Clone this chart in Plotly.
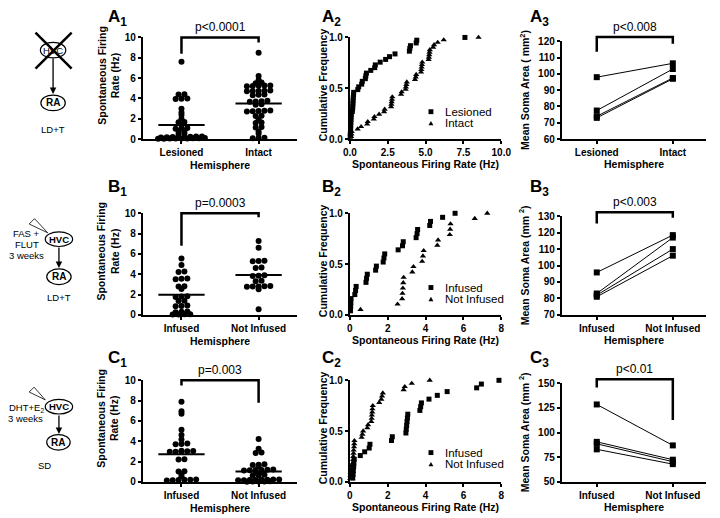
import numpy as np
import plotly.graph_objects as go

W, H = 720, 518
OFF = 8  # the page body margin pushes the figure 8px right/down; compensate
FONT = "Liberation Sans, Arial, sans-serif"

# ---------------- data ----------------
groups_A = ["Lesioned", "Intact"]
groups_BC = ["Infused", "Not Infused"]

# spontaneous firing rate (Hz), one value per neuron
rate_A_lesioned = [0.02, 0.03, 0.04, 0.05, 0.05, 0.06, 0.07, 0.08, 0.09,
                   0.16, 0.18, 0.19, 0.2, 0.21, 0.22, 0.24, 0.25,
                   0.52, 0.58, 0.78, 0.82, 1.02, 1.05, 1.09, 1.38, 1.64, 1.68,
                   2.0, 2.36, 2.62, 2.98, 3.93, 3.96, 4.0, 4.38, 4.42, 7.6]
rate_A_intact = [0.08, 0.1, 0.12, 0.51, 0.74, 1.14, 1.18, 1.58, 1.62, 1.93,
                 2.26, 2.3, 2.72, 2.74, 2.76, 2.78, 2.8, 3.38, 3.42,
                 3.68, 3.7, 3.73, 3.76, 4.3, 4.35, 4.38, 4.7, 4.72, 4.74, 4.76, 4.78,
                 5.2, 5.22, 5.24, 5.26, 5.28, 5.5, 5.56, 5.8, 6.2, 8.5]
rate_B_infused = [0.03, 0.04, 0.05, 0.06, 0.26, 0.3, 0.33, 0.85, 0.88, 0.92,
                  1.36, 1.4, 1.76, 1.8, 1.84, 2.55, 2.78, 2.82, 3.5, 3.55, 3.58,
                  4.22, 4.26, 4.9, 5.56]
rate_B_not = [0.56, 2.52, 2.76, 2.78, 2.8, 2.82, 2.84, 3.3, 3.36,
              3.82, 3.86, 3.9, 4.62, 4.66, 5.28, 5.3, 5.32, 6.6, 7.26]
rate_C_infused = [0.15, 0.17, 0.18, 0.2, 0.21, 0.23, 0.55, 0.78, 1.02, 1.06,
                  2.2, 2.24, 2.96, 2.98, 3.0, 3.02, 3.04, 3.06, 3.7, 3.74, 3.78,
                  4.18, 4.62, 5.14, 6.7, 6.95, 7.88]
rate_C_not = [0.02, 0.03, 0.04, 0.05, 0.06, 0.16, 0.17, 0.18, 0.19, 0.2, 0.22, 0.23, 0.24,
              0.62, 0.66, 0.7, 0.92, 0.96, 1.13, 1.15, 1.16, 1.18, 1.19, 1.21,
              1.55, 1.66, 1.7, 1.74, 2.84, 2.9, 3.27, 4.22]

# mean soma area, one value per bird, paired by index
soma_A_lesioned = [98, 77.5, 74, 73]
soma_A_intact = [106.5, 103, 97.5, 97]
soma_B_infused = [95.8, 83, 82, 81]
soma_B_not = [118.5, 117, 110, 106]
soma_C_infused = [128.5, 90.6, 88.6, 83]
soma_C_not = [87, 72.5, 70.5, 68]

p_rate = ["p<0.0001", "p=0.0003", "p=0.003"]
p_soma = ["p<0.008", "p<0.003", "p<0.01"]
# brackets: (top, left leg end, right leg end) in data units
bracket_rate = [(10, 8.4, 9.5), (10, 6.8, 9.6), (10, 9.5, 7.8)]
bracket_soma = [(122.6, 113.6, 118.6), (132.4, 125.6, 129.0), (154, 145.7, 112.7)]

soma_ranges = [(60, 120, 10), (70, 130, 10), (50, 150, 25)]
cdf_ranges = [(10, 2.5), (8, 2), (8, 2)]

rows = [
    dict(groups=groups_A, rate=(rate_A_lesioned, rate_A_intact), soma=(soma_A_lesioned, soma_A_intact)),
    dict(groups=groups_BC, rate=(rate_B_infused, rate_B_not), soma=(soma_B_infused, soma_B_not)),
    dict(groups=groups_BC, rate=(rate_C_infused, rate_C_not), soma=(soma_C_infused, soma_C_not)),
]

# ---------------- layout geometry (window pixels) ----------------
col_x = [(139, 297), (351, 506), (568, 716)]
row_y = [(32, 136), (212, 316), (383, 487)]
col3_top = [36, 215, 386]


def px(x):
    return (x - OFF) / W


def py(y):
    return 1 - (y - OFF) / H


def swarm(vals, center, y_ppu, x_ppu, tol_px=1.0, step_px=6.0):
    """GraphPad-like column scatter: close values share a row, spread sideways."""
    v = sorted(vals)
    groups = []
    for val in v:
        if groups and (val - groups[-1][0]) * y_ppu <= tol_px:
            groups[-1].append(val)
        else:
            groups.append([val])
    xs, ys = [], []
    for g in groups:
        n = len(g)
        for i, val in enumerate(g):
            xs.append(center + (i - (n - 1) / 2) * step_px / x_ppu)
            ys.append(val)
    return xs, ys


AX = dict(showline=True, linecolor="black", linewidth=2, ticks="outside", ticklen=3,
          tickwidth=2, tickcolor="black", showgrid=False, zeroline=False, mirror=False,
          tickfont=dict(family=FONT, size=10, color="black", weight="bold"))

fig = go.Figure()
layout = {}
shapes = []
annotations = []


def txt(x, y, text, size=12, bold=False, **kw):
    d = dict(x=x, y=y, text=text, showarrow=False, xanchor="center", yanchor="middle",
             xref="paper", yref="paper",
             font=dict(family=FONT, size=size, color="black", weight="bold" if bold else "normal"))
    d.update(kw)
    annotations.append(d)


def bracket(xn, yn, xr, yr, top, lo_l, lo_r, label):
    # drawn in axis-domain units so that the part above the axis range is not clipped
    fx = lambda v: (v - xr[0]) / (xr[1] - xr[0])
    fy = lambda v: (v - yr[0]) / (yr[1] - yr[0])
    shapes.append(dict(type="path", xref=f"{xn} domain", yref=f"{yn} domain",
                       path=f"M {fx(0)},{fy(lo_l)} L {fx(0)},{fy(top)} L {fx(1)},{fy(top)} L {fx(1)},{fy(lo_r)}",
                       line=dict(color="black", width=2.5)))
    txt(fx(0.5), fy(top), label, size=12, xref=f"{xn} domain", yref=f"{yn} domain",
        yanchor="bottom", yshift=1)


for r, row in enumerate(rows):
    for c in range(3):
        k = r * 3 + c + 1
        xn = "x" if k == 1 else f"x{k}"
        yn = "y" if k == 1 else f"y{k}"
        x0, x1 = col_x[c]
        top = col3_top[r] if c == 2 else row_y[r][0]
        bot = row_y[r][1]
        xa = dict(AX, domain=[px(x0), px(x1)], anchor=yn)
        ya = dict(AX, domain=[py(bot), py(top)], anchor=xn)

        if c == 0:
            xr, yr = [-0.5, 1.5], [0, 10]
            xa.update(range=xr, tickvals=[0, 1], ticktext=row["groups"])
            ya.update(range=yr, dtick=2)
            y_ppu = (bot - top) / 10
            x_ppu = (x1 - x0) / 2
            for g, vals in enumerate(row["rate"]):
                xs, ys = swarm(vals, g, y_ppu, x_ppu)
                fig.add_trace(go.Scatter(x=xs, y=ys, mode="markers", xaxis=xn, yaxis=yn,
                                         marker=dict(color="black", size=6), cliponaxis=False,
                                         showlegend=False))
                m = float(np.mean(vals))
                fig.add_trace(go.Scatter(x=[g - 0.3, g + 0.3], y=[m, m], mode="lines",
                                         xaxis=xn, yaxis=yn, line=dict(color="black", width=2),
                                         showlegend=False))
            btop, bl, br = bracket_rate[r]
            bracket(xn, yn, xr, yr, btop, bl, br, p_rate[r])
            txt(px((x0 + x1) / 2), py(bot + 26.5), "Hemisphere", size=10.5, bold=True)
            txt(px(103.5), py((top + bot) / 2 - 13), "Spontaneous Firing<br>Rate (Hz)",
                size=10.5, bold=True, textangle=-90)
        elif c == 1:
            xmax, dt = cdf_ranges[r]
            xa.update(range=[0, xmax], dtick=dt, tickformat=".1f" if r == 0 else "d")
            ya.update(range=[0, 1], tickvals=[0, 0.5, 1], tickformat=".1f")
            symbols = ["square", "triangle-up"]
            sizes = [5, 5.5]
            for g, vals in enumerate(row["rate"]):
                s = np.sort(vals)
                cum = np.arange(1, len(s) + 1) / len(s)
                fig.add_trace(go.Scatter(x=s, y=cum, mode="markers", xaxis=xn, yaxis=yn,
                                         marker=dict(color="black", size=sizes[g], symbol=symbols[g]),
                                         cliponaxis=False, showlegend=False,
                                         name=row["groups"][g]))
            # legend keys
            lx = 434
            ly = [108, 288, 457][r]
            for g in range(2):
                yy = ly + 12 * g
                if g == 0:
                    shapes.append(dict(type="rect", xref="paper", yref="paper",
                                       x0=px(lx - 2.5), x1=px(lx + 2.5), y0=py(yy + 2.5), y1=py(yy - 2.5),
                                       fillcolor="black", line=dict(width=0)))
                else:
                    shapes.append(dict(type="path", xref="paper", yref="paper",
                                       path=f"M {px(lx - 2.5)},{py(yy + 2)} L {px(lx + 2.5)},{py(yy + 2)} "
                                            f"L {px(lx)},{py(yy - 2.5)} Z",
                                       fillcolor="black", line=dict(width=0)))
                txt(px(446), py(yy), row["groups"][g], size=11.5, xanchor="left")
            txt(px((x0 + x1) / 2), py(bot + 26), "Spontaneous Firing Rate (Hz)", size=10.5,
                bold=True)
            txt(px(323.5), py((top + bot) / 2 - 3), "Cumulative Frequency", size=10.5, bold=True,
                textangle=-90)
        else:
            lo, hi, dt = soma_ranges[r]
            xr, yr = [-0.46, 1.44], [lo, hi]
            xa.update(range=xr, tickvals=[0, 1], ticktext=row["groups"])
            ya.update(range=yr, dtick=dt)
            a, b = row["soma"]
            for i in range(len(a)):
                fig.add_trace(go.Scatter(x=[0, 1], y=[a[i], b[i]], mode="lines+markers",
                                         xaxis=xn, yaxis=yn, cliponaxis=False,
                                         line=dict(color="black", width=1),
                                         marker=dict(color="black", size=6, symbol="square"),
                                         showlegend=False))
            btop, bl, br = bracket_soma[r]
            bracket(xn, yn, xr, yr, btop, bl, br, p_soma[r])
            txt(px((x0 + x1) / 2), py(bot + 25.5), "Hemisphere", size=10.5, bold=True)
            ytitle = "Mean Soma Area ( mm<sup>2</sup>)" if r == 0 else "Mean Soma Area (mm <sup>2</sup>)"
            txt(px(529), py((top + bot) / 2), ytitle, size=10.5, bold=True, textangle=-90)

        layout["xaxis" if k == 1 else f"xaxis{k}"] = xa
        layout["yaxis" if k == 1 else f"yaxis{k}"] = ya

# panel letters
for r, letter in enumerate("ABC"):
    cy = [12, 186, 361][r]
    for c, lx in enumerate([101, 320, 533]):
        txt(px(lx), py(cy), f"{letter}<sub>{c + 1}</sub>", size=17, bold=True, xanchor="left")


# ---------------- schematics ----------------
def ellipse(cx, cy, rx, ry):
    shapes.append(dict(type="circle", xref="paper", yref="paper",
                       x0=px(cx - rx), x1=px(cx + rx), y0=py(cy + ry), y1=py(cy - ry),
                       line=dict(color="black", width=1.2), fillcolor="white", layer="below"))


def arrow(x, y_from, y_to):
    annotations.append(dict(x=px(x), y=py(y_to), ax=0, ay=-(y_to - y_from), xref="paper", yref="paper",
                            axref="pixel", ayref="pixel", text="", showarrow=True,
                            arrowhead=2, arrowsize=1, arrowwidth=1.3, arrowcolor="black"))


def pipette(x1, y1, x2, y2, xt, yt):
    shapes.append(dict(type="path", xref="paper", yref="paper",
                       path=f"M {px(x1)},{py(y1)} L {px(xt)},{py(yt)} L {px(x2)},{py(y2)} Z",
                       line=dict(color="black", width=0.8)))


# A: lesioned HVC
ellipse(47, 45, 13, 8)
txt(px(47), py(45), "HVC", size=9.5)
for (xa_, ya_, xb_, yb_) in [(29, 27, 66, 64), (29, 64, 66, 27)]:
    shapes.append(dict(type="line", xref="paper", yref="paper", x0=px(xa_), y0=py(ya_),
                       x1=px(xb_), y1=py(yb_), line=dict(color="black", width=2.5)))
arrow(47, 53, 90)
ellipse(47, 99, 12.5, 8)
txt(px(47), py(99), "RA", size=10, bold=True)
txt(px(47), py(126), "LD+T", size=9.5)

# B: FAS + FLUT infusion
ellipse(53, 238.5, 14, 7.5)
txt(px(53), py(238.5), "HVC", size=9.5, bold=True)
arrow(53, 246, 268)
ellipse(53, 277, 12.5, 8)
txt(px(53), py(277), "RA", size=10, bold=True)
pipette(22.5, 223, 28, 217.5, 41.5, 232)
txt(px(20), py(233), "FAS +", size=9.5)
txt(px(20), py(244), "FLUT", size=9.5)
txt(px(20), py(255), "3 weeks", size=9.5)
txt(px(53), py(298), "LD+T", size=9.5)

# C: DHT+E2 infusion
ellipse(53, 410, 14, 7.5)
txt(px(53), py(410), "HVC", size=9.5, bold=True)
arrow(53, 418, 438)
ellipse(52.5, 446.5, 12, 8)
txt(px(52.5), py(446.5), "RA", size=10, bold=True)
pipette(22.5, 395, 27.5, 390, 39, 403)
txt(px(20), py(411), "DHT+E<sub>2</sub>", size=9.5)
txt(px(18.5), py(422), "3 weeks", size=9.5)
txt(px(38), py(470), "SD", size=9.5)

fig.update_layout(
    width=W, height=H,
    margin=dict(l=0, r=0, t=0, b=0),
    paper_bgcolor="white", plot_bgcolor="white",
    font=dict(family=FONT, size=10, color="black"),
    showlegend=False,
    shapes=shapes, annotations=annotations,
    **layout,
)

fig.write_html("out.html")
